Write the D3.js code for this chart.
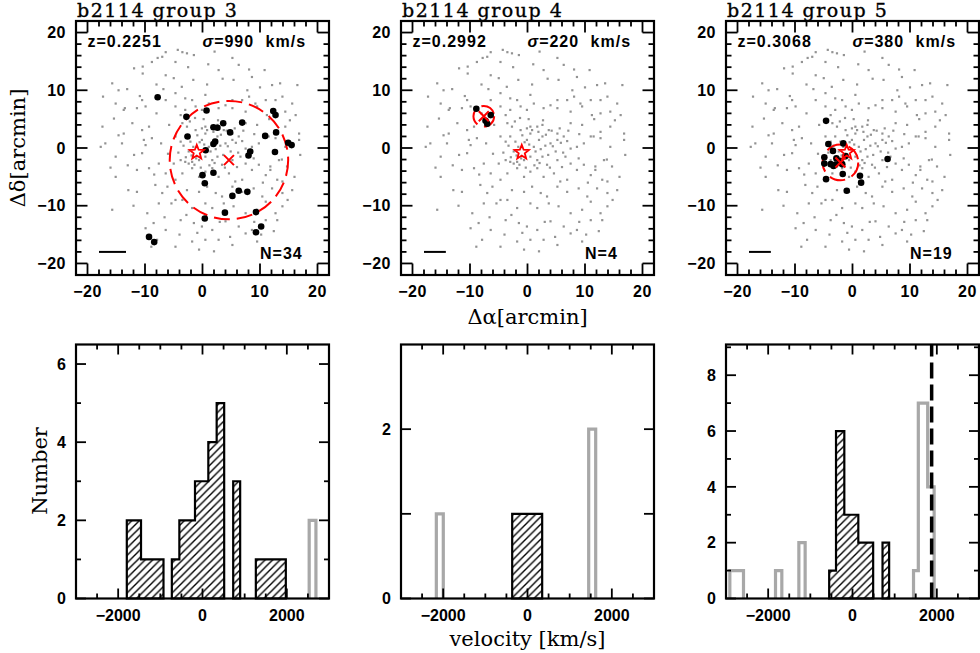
<!DOCTYPE html>
<html><head><meta charset="utf-8">
<script src="https://cdn.jsdelivr.net/npm/d3@7"></script>
<style>body{margin:0;background:#fff}svg{display:block}</style>
</head><body><svg id="c" width="980" height="653"></svg>
<script>
// ---------------- DATA ----------------
const titles = ["b2114 group 3", "b2114 group 4", "b2114 group 5"];
const redshifts = ["0.2251", "0.2992", "0.3068"];
const sigmas = [990, 220, 380];
const memberCounts = [34, 4, 19];
const skyTicks = [-20, -10, 0, 10, 20];
const velTicks = [-2000, 0, 2000];
const histYMax = [6.5, 3.0, 9.1];
const histYLabels = [[0, 2, 4, 6], [0, 2], [0, 2, 4, 6, 8]];
const clusterCenter = [-1.0, -0.75];
const groupCenters = [[4.6, -2.1], [-7.6, 5.5], [-2.1, -2.5]];
const groupRadii = [10.3, 1.8, 3.1];
const scaleBarLengths = [4.7, 3.8, 3.8];
const velocityLine5 = 1877;

// background spectroscopic galaxies (arcmin), same field in every panel
const fieldGalaxies = [
[-6.4,16.6],[-7.0,15.8],[-7.8,15.6],[-4.3,17.0],[-3.5,16.6],[-2.7,16.4],[-1.5,16.1],[2.1,16.7],[5.2,15.6],[-4.7,14.9],
[-8.8,14.9],[-10.4,14.1],[-11.9,13.8],[6.3,14.4],[8.1,13.6],[-6.4,12.6],[-5.0,12.1],[-1.6,11.8],[2.8,13.5],[5.4,11.8],
[8.6,12.3],[10.8,13.5],[12.1,10.9],[16.5,10.9],[-13.1,10.2],[-14.6,10.0],[-15.7,11.2],[-10.4,12.9],[-17.3,8.9],[-15.1,7.7],
[-13.5,6.9],[-10.5,8.3],[-6.4,8.3],[-4.7,9.5],[-3.0,8.6],[-1.8,8.3],[0.5,9.2],[5.2,8.3],[6.9,8.3],[8.1,8.9],
[9.2,7.7],[11.0,8.3],[12.7,8.3],[13.9,8.9],[15.6,7.7],[-15.4,5.1],[-13.7,6.6],[-11.4,6.9],[-9.9,7.2],[-4.7,7.2],
[-3.8,5.7],[-3.0,6.6],[-1.2,7.2],[-0.1,6.6],[1.1,7.7],[2.8,6.9],[4.0,7.4],[5.2,6.9],[7.5,6.3],[9.5,7.2],
[11.2,5.7],[12.7,6.0],[14.4,6.3],[16.2,5.7],[-17.4,3.7],[-14.6,2.2],[-13.7,2.5],[-10.5,3.1],[-9.3,3.7],[-3.5,4.3],
[-2.7,3.7],[-1.2,3.1],[-0.1,3.4],[0.5,3.7],[1.7,3.7],[2.6,4.0],[3.7,3.1],[5.2,2.5],[7.5,4.3],[9.5,4.0],
[11.0,2.0],[12.7,2.8],[14.4,3.7],[16.8,2.5],[-17.7,0.2],[-16.9,0.8],[-14.0,0.8],[-10.2,1.4],[-9.9,0.5],[-8.8,1.7],
[-4.7,2.0],[-3.8,1.1],[-3.0,2.0],[-2.1,1.1],[-0.9,2.2],[-0.1,1.4],[0.5,2.5],[1.1,0.2],[2.0,1.4],[2.6,2.0],
[4.0,0.8],[5.2,1.4],[6.3,2.0],[7.5,-0.1],[8.6,0.2],[9.8,0.8],[11.5,2.0],[12.7,1.7],[14.4,0.2],[16.8,1.4],
[-15.1,-1.5],[-11.9,-1.2],[-10.5,-0.9],[-7.6,-2.7],[-5.0,-2.7],[-3.8,-2.1],[-3.0,-2.4],[-2.4,-2.7],[-1.8,-2.4],[-1.1,-1.8],
[-0.6,-2.1],[0.5,-1.5],[1.7,-2.1],[2.6,-1.5],[3.4,-2.9],[5.2,-2.1],[6.6,-1.5],[7.5,-2.7],[8.9,-1.8],[9.8,-2.9],
[11.8,-3.2],[13.3,-2.1],[14.7,-3.2],[17.0,-1.2],[-15.1,-5.0],[-11.4,-3.8],[-9.3,-3.5],[-6.4,-4.4],[-4.7,-5.5],[-3.5,-4.4],
[-1.8,-3.5],[-0.6,-5.0],[0.5,-4.1],[1.7,-3.5],[2.8,-5.0],[4.6,-4.4],[5.7,-5.8],[6.9,-5.5],[8.6,-3.8],[11.0,-4.7],
[11.8,-3.8],[13.0,-5.5],[13.9,-5.8],[-12.9,-7.3],[-11.4,-7.6],[-8.2,-6.4],[-6.1,-6.7],[-4.7,-9.0],[-2.7,-7.3],[-0.6,-7.6],
[0.8,-6.7],[2.3,-7.8],[3.4,-8.4],[5.2,-6.7],[6.9,-7.6],[8.9,-7.0],[10.4,-8.4],[12.1,-7.0],[13.9,-7.8],[15.6,-7.3],
[-15.7,-10.7],[-9.6,-11.3],[-7.6,-9.6],[-5.4,-9.6],[-3.5,-9.0],[-1.8,-10.4],[0.5,-9.6],[1.7,-10.4],[3.7,-9.6],[5.4,-10.1],
[7.5,-11.3],[9.5,-10.7],[11.0,-9.3],[12.7,-11.3],[13.9,-10.1],[-9.9,-13.9],[-8.5,-13.0],[-6.4,-14.2],[-3.8,-12.5],[-1.5,-13.0],
[-0.1,-13.6],[1.7,-14.2],[4.0,-12.7],[6.3,-13.6],[8.6,-14.2],[11.0,-12.5],[13.0,-12.5],[-8.9,-17.1],[-7.9,-15.9],[-4.7,-17.1],
[-1.8,-16.2],[0.5,-15.9],[2.8,-15.9],[5.2,-16.8],[7.5,-14.8],[9.5,-16.2],[-0.6,-17.6],[2.0,-17.9],
[0.3,0.6],[1.4,-0.6],[2.3,-0.2],[3.1,0.4],[3.6,-1.2],[4.4,0.3],[4.9,-0.6],[1.9,2.8],[3.2,2.3],[4.2,3.0],
[0.8,3.1],[-0.5,1.0],[-1.6,0.2],[-2.4,-0.6],[-3.3,0.4],[-4.2,-0.8],[-1.9,-1.3],[-0.3,-3.4],[1.2,-3.0],[2.1,-2.6],
[3.9,-3.4],[5.8,0.9],[6.2,-0.8],[6.9,1.2],[5.6,3.4],[7.1,3.0],[6.0,-3.3],[2.7,4.8],[0.2,5.0],[-1.3,5.2],
[-2.2,4.6],[-12.2,4.3],[-13.0,-3.0],[-16.0,-3.4],[-12.0,-10.0],[-10.9,9.0],[-8.0,11.0],[-6.8,10.2],[-5.8,4.0],[-7.2,0.8],
[-6.0,-1.0],[-8.4,-4.6],[-7.0,-7.8],[-2.8,-11.6],[-0.9,-14.7],[3.0,-12.8],[10.2,-15.0],[12.4,-14.4],[14.8,-9.0],[16.0,-5.0],
[15.2,4.8],[13.5,11.2],[10.0,10.5],[7.8,10.0],[3.5,12.0],[1.0,14.5],[-2.5,14.0],[-8.0,6.0],[9.0,-12.8],[4.8,-15.4],
[11.6,5.0],[9.0,2.4],[10.5,-6.0],[-4.0,-15.0],[-6.6,-12.0],[0.8,11.0],[-3.6,10.6],[13.8,-2.0],[-2.9,-1.6],[-1.4,-2.9]
];

// group members (arcmin)
const members3 = [
[-7.8,8.8],[0.7,6.5],[-2.8,5.4],[12.3,6.4],[12.7,5.7],[1.9,3.6],[2.6,3.5],[3.6,4.3],[6.9,4.4],[4.8,2.7],
[-2.6,2.0],[10.9,2.1],[12.8,2.7],[2.2,1.1],[1.9,0.7],[0.55,-0.4],[14.9,0.9],[15.5,0.5],[8.3,-0.6],[8.0,-1.3],
[12.6,-0.7],[0.0,-4.7],[1.9,-4.3],[0.4,-6.1],[6.3,-7.4],[7.8,-7.6],[5.2,-8.3],[3.9,-11.2],[9.3,-11.1],[0.4,-12.2],
[10.2,-13.6],[9.3,-14.6],[-9.3,-15.4],[-8.4,-16.3]
];
const members4 = [[-8.9,6.8],[-6.4,5.7],[-7.3,4.7],[-7.0,4.2]];
const members5 = [
[-4.6,4.7],[-4.2,0.7],[-1.6,0.8],[-3.4,-0.5],[-4.9,-1.6],[-4.9,-2.7],[-3.3,-3.1],[-3.0,-2.9],[-2.2,-2.2],[-1.7,-4.5],
[-4.6,-5.4],[1.3,-4.8],[1.5,-6.0],[-1.0,-7.4],[6.1,-1.9],[-3.8,-2.8],[-1.2,-1.4],[-1.8,-2.8],[-2.8,-1.8]
];
const membersAll = [members3, members4, members5];

// velocity histograms: [low edge, high edge, count] (km/s)
const memberHist3 = [[-1795,-1458,2],[-1458,-925,1],[-727,-549,1],[-549,-178,2],[-178,138,3],[138,336,4],[336,514,5],[728,893,3],[1265,1976,1]];
const otherHist3  = [[2530,2690,2]];
const memberHist4 = [[-363,348,1]];
const otherHist4  = [[-2162,-1997,1],[1451,1617,2]];
const memberHist5 = [[-553,-391,1],[-391,-194,6],[-194,138,3],[138,490,2],[712,869,2]];
const otherHist5  = [[-2909,-2585,1],[-1826,-1676,1],[-1272,-1123,2],[1447,1561,1],[1561,1783,7],[1783,1936,4]];
const memberHists = [memberHist3, memberHist4, memberHist5];
const otherHists = [otherHist3, otherHist4, otherHist5];

// ---------------- DRAW ----------------
const svg = d3.select("#c");
const defs = svg.append("defs");
defs.append("pattern").attr("id","hatch").attr("patternUnits","userSpaceOnUse")
  .attr("width",7.5).attr("height",7.5)
  .append("path").attr("d","M-2,2 L2,-2 M0,7.5 L7.5,0 M5.5,9.5 L9.5,5.5")
  .attr("stroke","#000").attr("stroke-width",1.4);

const lefts = [76, 401, 726];
const PW = 253;
const topY0 = 21, topH = 254;
const botY0 = 344.5, botH = 254;
const tickFont = "'Liberation Sans', Arial, sans-serif";
const serif = "'DejaVu Serif', serif";

function drawTicks(g, xs, ys, xMaj, xMin, yMaj, yMin, Lmaj, Lmin) {
  const [xa, xb] = xs.range();
  const [ya, yb] = ys.range(); // ya bottom, yb top
  const segs = [];
  xMaj.forEach(v => { const x = xs(v); segs.push([x,ya,x,ya-Lmaj],[x,yb,x,yb+Lmaj]); });
  xMin.forEach(v => { const x = xs(v); segs.push([x,ya,x,ya-Lmin],[x,yb,x,yb+Lmin]); });
  yMaj.forEach(v => { const y = ys(v); segs.push([xa,y,xa+Lmaj,y],[xb,y,xb-Lmaj,y]); });
  yMin.forEach(v => { const y = ys(v); segs.push([xa,y,xa+Lmin,y],[xb,y,xb-Lmin,y]); });
  g.append("g").selectAll("line").data(segs).join("line")
    .attr("x1",d=>d[0]).attr("y1",d=>d[1]).attr("x2",d=>d[2]).attr("y2",d=>d[3])
    .attr("stroke","#000").attr("stroke-width",1.8);
  g.append("rect").attr("x",xa).attr("y",yb).attr("width",xb-xa).attr("height",ya-yb)
    .attr("fill","none").attr("stroke","#000").attr("stroke-width",2.2);
}
const fmt = v => (v < 0 ? "\u2212" + Math.abs(v) : String(v));

function starPath(cx, cy, R, r) {
  let p = "";
  for (let i = 0; i < 10; i++) {
    const a = -Math.PI/2 + i*Math.PI/5;
    const rr = i % 2 ? r : R;
    p += (i ? "L" : "M") + (cx + rr*Math.cos(a)).toFixed(2) + "," + (cy + rr*Math.sin(a)).toFixed(2);
  }
  return p + "Z";
}

function groupSteps(segs) {
  const groups = [];
  segs.forEach(s => {
    const last = groups[groups.length-1];
    if (last && Math.abs(last[last.length-1][1] - s[0]) < 1e-6) last.push(s); else groups.push([s]);
  });
  return groups;
}

for (let i = 0; i < 3; i++) {
  const L = lefts[i];
  // ---------- sky panel ----------
  const xs = d3.scaleLinear().domain([-22,22]).range([L, L+PW]);
  const ys = d3.scaleLinear().domain([-22,22]).range([topY0+topH, topY0]);
  const g = svg.append("g");
  g.append("text").attr("x",L+1).attr("y",17).attr("font-family",serif).attr("font-size",19)
    .attr("letter-spacing",1.5).attr("stroke","#000").attr("stroke-width",0.35)
    .text(titles[i]);
  g.append("g").selectAll("rect").data(fieldGalaxies).join("rect")
    .attr("x",d=>xs(d[0])-1.1).attr("y",d=>ys(d[1])-1.1).attr("width",2.2).attr("height",2.2).attr("fill","#939393");
  // group circle
  const gc = groupCenters[i];
  g.append("circle").attr("cx",xs(gc[0])).attr("cy",ys(gc[1]))
    .attr("r",xs(groupRadii[i]) - xs(0)).attr("fill","none").attr("stroke","#ff0000")
    .attr("stroke-width",2).attr("stroke-dasharray","16,7");
  g.append("g").selectAll("circle").data(membersAll[i]).join("circle")
    .attr("cx",d=>xs(d[0])).attr("cy",d=>ys(d[1])).attr("r",3.3).attr("fill","#000");
  // group centre cross
  const cx = xs(gc[0]), cy = ys(gc[1]);
  g.append("path").attr("d",`M${cx-5},${cy-5}L${cx+5},${cy+5}M${cx-5},${cy+5}L${cx+5},${cy-5}`)
    .attr("stroke","#ff0000").attr("stroke-width",2);
  // cluster centre star
  g.append("path").attr("d",starPath(xs(clusterCenter[0]), ys(clusterCenter[1]), 7.5, 3.2))
    .attr("fill","none").attr("stroke","#ff0000").attr("stroke-width",1.8);
  // scale bar
  g.append("line").attr("x1",xs(-18)).attr("x2",xs(-18+scaleBarLengths[i]))
    .attr("y1",ys(-18)).attr("y2",ys(-18)).attr("stroke","#000").attr("stroke-width",2);
  // annotations
  const t = g.append("g").attr("font-family",tickFont).attr("font-weight","bold").attr("font-size",16)
    .attr("letter-spacing",1);
  t.append("text").attr("x",xs(-20)).attr("y",ys(17.5)).text("z=" + redshifts[i]);
  const st = t.append("text").attr("x",xs(0)).attr("y",ys(17.5)).attr("word-spacing",6);
  st.append("tspan").attr("font-style","italic").text("\u03c3");
  st.append("tspan").text("=" + sigmas[i] + " km/s");
  t.append("text").attr("x",xs(10)).attr("y",ys(-19.2)).text("N=" + memberCounts[i]);
  drawTicks(g, xs, ys, skyTicks, d3.range(-22,23,2).filter(v=>v%10), skyTicks, d3.range(-22,23,2).filter(v=>v%10), 11.5, 5.5);
  const tl = g.append("g").attr("font-family",tickFont).attr("font-weight","bold").attr("font-size",16);
  tl.selectAll(".xl").data(skyTicks).join("text").attr("x",d=>xs(d)).attr("y",297)
    .attr("text-anchor","middle").attr("letter-spacing",0.5).text(fmt);
  tl.selectAll(".yl").data(skyTicks).join("text").attr("x",L-10).attr("y",d=>ys(d)).attr("dy","0.36em")
    .attr("text-anchor","end").attr("letter-spacing",0.5).text(fmt);

  // ---------- velocity histogram ----------
  const vx = d3.scaleLinear().domain([-3000,3000]).range([L, L+PW]);
  const vy = d3.scaleLinear().domain([0, histYMax[i]]).range([botY0+botH, botY0]);
  const h = svg.append("g");
  groupSteps(otherHists[i]).forEach(grp => {
    let d = `M${vx(grp[0][0])},${vy(0)}`;
    grp.forEach(s => { d += `V${vy(s[2])}H${vx(s[1])}`; });
    d += `V${vy(0)}`;
    h.append("path").attr("d",d).attr("fill","none").attr("stroke","#a8a8a8").attr("stroke-width",3.2);
  });
  groupSteps(memberHists[i]).forEach(grp => {
    let d = `M${vx(grp[0][0])},${vy(0)}`;
    grp.forEach(s => { d += `V${vy(s[2])}H${vx(s[1])}`; });
    d += `V${vy(0)}Z`;
    h.append("path").attr("d",d).attr("fill","url(#hatch)").attr("stroke","#000").attr("stroke-width",2.2);
  });
  if (i === 2) {
    h.append("line").attr("x1",vx(velocityLine5)).attr("x2",vx(velocityLine5))
      .attr("y1",vy(0)).attr("y2",vy(histYMax[i])).attr("stroke","#000").attr("stroke-width",3.5)
      .attr("stroke-dasharray","16,6");
  }
  const ymax = histYMax[i];
  const yMajor = i === 1 ? [0,1,2] : d3.range(0, Math.floor(ymax)+1, 2);
  const yMinor = i === 1 ? [] : d3.range(1, Math.floor(ymax)+1, 2);
  drawTicks(h, vx, vy, velTicks, d3.range(-2500,3000,500).filter(v=>v%2000), yMajor, yMinor, 10, 5);
  const hl = h.append("g").attr("font-family",tickFont).attr("font-weight","bold").attr("font-size",16);
  hl.selectAll(".xl").data(velTicks).join("text").attr("x",d=>vx(d)).attr("y",621)
    .attr("text-anchor","middle").text(fmt);
  hl.selectAll(".yl").data(histYLabels[i]).join("text").attr("x",L-10).attr("y",d=>vy(d)).attr("dy","0.36em")
    .attr("text-anchor","end").text(fmt);
}

// axis titles
const at = svg.append("g").attr("font-family",serif).attr("font-size",21).attr("text-anchor","middle");
at.append("text").attr("transform","translate(25,148) rotate(-90)").text("\u0394\u03b4[arcmin]");
at.append("text").attr("x",527.5).attr("y",324).text("\u0394\u03b1[arcmin]");
at.append("text").attr("transform","translate(47,471) rotate(-90)").text("Number");
at.append("text").attr("x",527.5).attr("y",646).text("velocity [km/s]");
</script>
</body></html>
